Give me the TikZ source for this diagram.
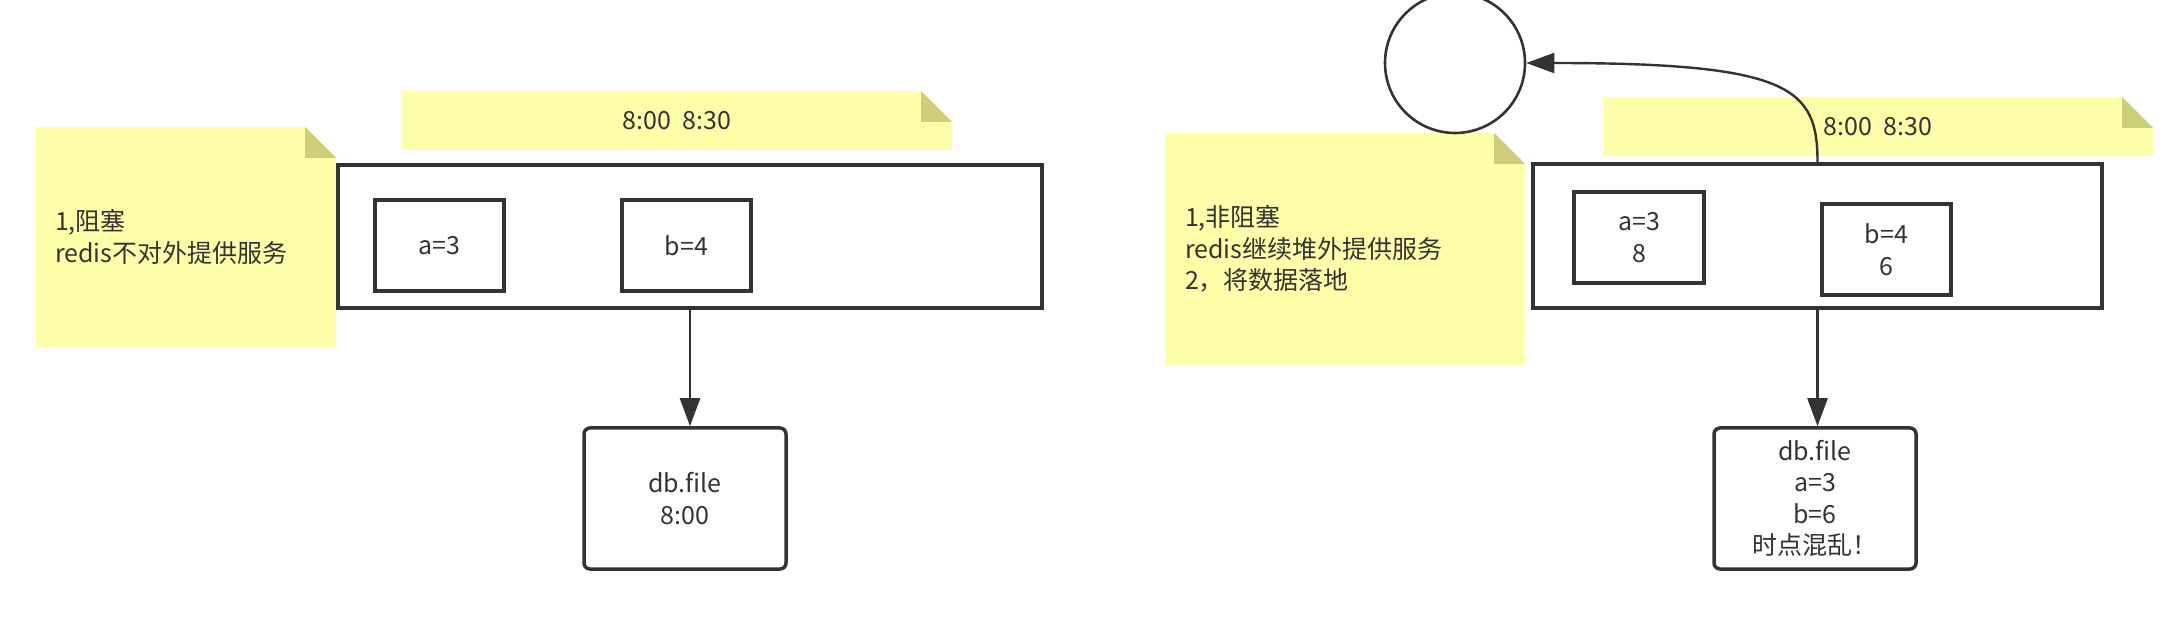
\documentclass[tikz,border=0pt]{standalone}
\usepackage{fontspec}
\setmainfont{Noto Sans CJK SC}
\usetikzlibrary{arrows.meta,positioning,calc,shadows}
\definecolor{notefill}{RGB}{255,255,170}
\definecolor{notefold}{RGB}{206,206,122}
\definecolor{ink}{RGB}{51,51,51}

\begin{document}
\begin{tikzpicture}[x=0.5pt,y=-0.5pt,font={\fontsize{12.5}{15.75}\selectfont},text=ink]

\tikzstyle{note} = [inner xsep=10pt, inner ysep=0pt, align=left, path picture={
  \fill[notefill] (path picture bounding box.south west) -- (path picture bounding box.north west)
    -- ($(path picture bounding box.north east)+(-15.5pt,0pt)$) -- ($(path picture bounding box.north east)+(0pt,-15.5pt)$)
    -- (path picture bounding box.south east) -- cycle;
  \fill[notefold] ($(path picture bounding box.north east)+(-15.5pt,0pt)$) -- ($(path picture bounding box.north east)+(-15.5pt,-15.5pt)$)
    -- ($(path picture bounding box.north east)+(0pt,-15.5pt)$) -- cycle;}]
\tikzstyle{block} = [draw=ink, line width=1.75pt, fill=white, inner sep=0pt, align=center]
\tikzstyle{server} = [block, drop shadow={shadow xshift=1pt, shadow yshift=-1pt, fill=black!35, opacity=1}]
\tikzstyle{file} = [block, rounded corners=3pt]
\tikzstyle{conn} = [draw=ink, line width=1.2pt, -{Triangle[length=14pt,width=10pt]}]

\useasboundingbox (0,0) rectangle (2166,640);

\begin{scope}
\node[note, minimum width=150.5pt, minimum height=110pt, text width=130.5pt] (block-note) at (185.5,237) {1,阻塞\\redis不对外提供服务};
\node[note, minimum width=275pt, minimum height=29.5pt, align=center] (block-time) at (677,120.5) {8:00~~8:30};
\node[server, minimum width=352pt, minimum height=71.5pt] (redis1) at (690,236.5) {};
\node[block, minimum width=64.5pt, minimum height=45.5pt] (a1) at (439.5,245.5) {a=3};
\node[block, minimum width=64.5pt, minimum height=45.5pt] (b1) at (686.5,245.5) {b=4};
\node[file, minimum width=101pt, minimum height=70.5pt] (db1) at (685,498.5) {db.file\\8:00};
\draw[conn] (redis1.south) -- (redis1.south |- db1.north);
\end{scope}

\begin{scope}
\node[note, minimum width=180pt, minimum height=116pt, text width=160pt] (nonblock-note) at (1345,249) {1,非阻塞\\redis继续堆外提供服务\\2，将数据落地};
\node[note, minimum width=275pt, minimum height=29.5pt, align=center] (nonblock-time) at (1878,126.5) {8:00~~8:30};
\node[server, minimum width=284.5pt, minimum height=72pt] (redis2) at (1817.5,236) {};
\node[block, minimum width=65pt, minimum height=45.5pt] (a2) at (1639,237.5) {a=3\\8};
\node[block, minimum width=64.5pt, minimum height=45.5pt] (b2) at (1886.5,249.5) {b=4\\6};
\node[file, minimum width=101pt, minimum height=70.5pt] (db2) at (1815,498.5) {db.file\\a=3\\b=6\\时点混乱！};
\node[draw=ink, line width=1.3pt, circle, minimum size=70pt, inner sep=0pt] (fork) at (1455,63) {};
\draw[conn] (redis2.south) -- (redis2.south |- db2.north);
\draw[conn] (redis2.north) .. controls +(0,-74) and +(265,0) .. (fork.east);
\end{scope}

\end{tikzpicture}
\end{document}
